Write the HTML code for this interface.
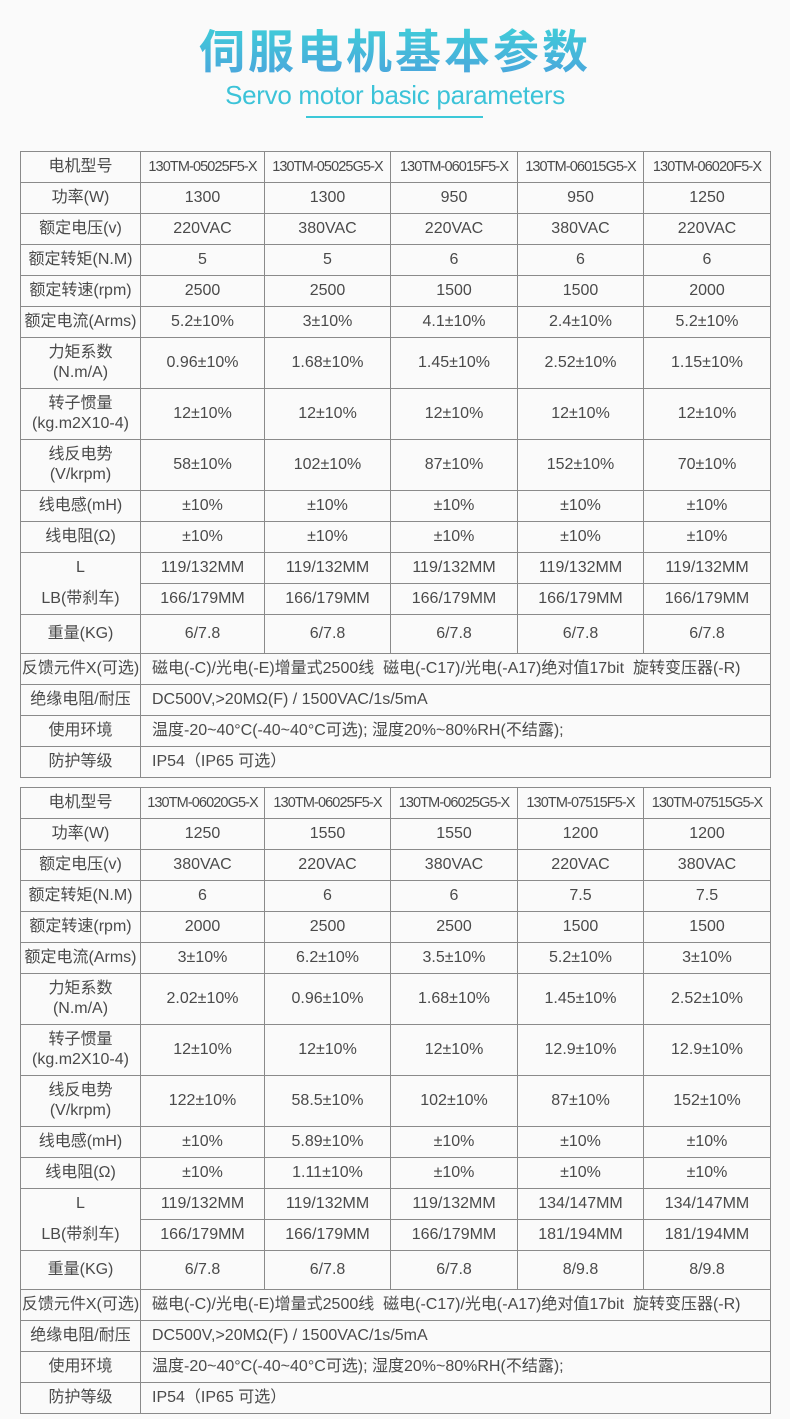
<!DOCTYPE html>
<html><head><meta charset="utf-8"><style>
body{margin:0;background:#fafafa;width:790px;height:1419px;position:relative;overflow:hidden;font-family:"Liberation Sans","Noto Sans CJK SC",sans-serif;color:#4a4a4a}
.t1{position:absolute;left:0;top:22px;width:790px;text-align:center;font-size:46px;font-weight:bold;letter-spacing:3px;line-height:54px;font-family:"Noto Sans CJK SC",sans-serif;background:linear-gradient(#3fd0d8,#4aa6dc);-webkit-background-clip:text;background-clip:text;color:transparent}
.t2{position:absolute;left:0;top:78px;width:790px;text-align:center;font-size:26px;line-height:34px;color:#3cc3d8;letter-spacing:-0.3px}
.ul{position:absolute;left:306px;top:116px;width:177px;height:2px;background:#3cc8d8}
table{position:absolute;left:20px;width:750px;border-collapse:collapse;table-layout:fixed}
td{border:1px solid #8a8a8a;text-align:center;font-size:16px;padding:0;line-height:20px;white-space:nowrap;overflow:hidden}
td.m{font-size:14.5px;letter-spacing:-0.9px}
td.l{text-align:left;padding-left:11px}
tr.a{height:31px}tr.b{height:51px}tr.c{height:39px}
td.nb{border-bottom:none}td.nt{border-top:none}
</style></head><body>
<div class="t1">伺服电机基本参数</div>
<div class="t2">Servo motor basic parameters</div>
<div class="ul"></div>

<table style="top:151px">
<colgroup><col style="width:120px"><col style="width:124px"><col style="width:126px"><col style="width:127px"><col style="width:126px"><col style="width:127px"></colgroup>
<tr class="a"><td>电机型号</td><td class="m">130TM-05025F5-X</td><td class="m">130TM-05025G5-X</td><td class="m">130TM-06015F5-X</td><td class="m">130TM-06015G5-X</td><td class="m">130TM-06020F5-X</td></tr>
<tr class="a"><td>功率(W)</td><td>1300</td><td>1300</td><td>950</td><td>950</td><td>1250</td></tr>
<tr class="a"><td>额定电压(v)</td><td>220VAC</td><td>380VAC</td><td>220VAC</td><td>380VAC</td><td>220VAC</td></tr>
<tr class="a"><td>额定转矩(N.M)</td><td>5</td><td>5</td><td>6</td><td>6</td><td>6</td></tr>
<tr class="a"><td>额定转速(rpm)</td><td>2500</td><td>2500</td><td>1500</td><td>1500</td><td>2000</td></tr>
<tr class="a"><td>额定电流(Arms)</td><td>5.2±10%</td><td>3±10%</td><td>4.1±10%</td><td>2.4±10%</td><td>5.2±10%</td></tr>
<tr class="b"><td>力矩系数<br>(N.m/A)</td><td>0.96±10%</td><td>1.68±10%</td><td>1.45±10%</td><td>2.52±10%</td><td>1.15±10%</td></tr>
<tr class="b"><td>转子惯量<br>(kg.m2X10-4)</td><td>12±10%</td><td>12±10%</td><td>12±10%</td><td>12±10%</td><td>12±10%</td></tr>
<tr class="b"><td>线反电势<br>(V/krpm)</td><td>58±10%</td><td>102±10%</td><td>87±10%</td><td>152±10%</td><td>70±10%</td></tr>
<tr class="a"><td>线电感(mH)</td><td>±10%</td><td>±10%</td><td>±10%</td><td>±10%</td><td>±10%</td></tr>
<tr class="a"><td>线电阻(Ω)</td><td>±10%</td><td>±10%</td><td>±10%</td><td>±10%</td><td>±10%</td></tr>
<tr class="a"><td class="nb">L</td><td>119/132MM</td><td>119/132MM</td><td>119/132MM</td><td>119/132MM</td><td>119/132MM</td></tr>
<tr class="a"><td class="nt">LB(带刹车)</td><td>166/179MM</td><td>166/179MM</td><td>166/179MM</td><td>166/179MM</td><td>166/179MM</td></tr>
<tr class="c"><td>重量(KG)</td><td>6/7.8</td><td>6/7.8</td><td>6/7.8</td><td>6/7.8</td><td>6/7.8</td></tr>
<tr class="a"><td>反馈元件X(可选)</td><td class="l" colspan="5">磁电(-C)/光电(-E)增量式2500线&nbsp; 磁电(-C17)/光电(-A17)绝对值17bit&nbsp; 旋转变压器(-R)</td></tr>
<tr class="a"><td>绝缘电阻/耐压</td><td class="l" colspan="5">DC500V,&gt;20MΩ(F) / 1500VAC/1s/5mA</td></tr>
<tr class="a"><td>使用环境</td><td class="l" colspan="5">温度-20~40°C(-40~40°C可选); 湿度20%~80%RH(不结露);</td></tr>
<tr class="a"><td>防护等级</td><td class="l" colspan="5">IP54（IP65 可选）</td></tr>
</table>

<table style="top:787px">
<colgroup><col style="width:120px"><col style="width:124px"><col style="width:126px"><col style="width:127px"><col style="width:126px"><col style="width:127px"></colgroup>
<tr class="a"><td>电机型号</td><td class="m">130TM-06020G5-X</td><td class="m">130TM-06025F5-X</td><td class="m">130TM-06025G5-X</td><td class="m">130TM-07515F5-X</td><td class="m">130TM-07515G5-X</td></tr>
<tr class="a"><td>功率(W)</td><td>1250</td><td>1550</td><td>1550</td><td>1200</td><td>1200</td></tr>
<tr class="a"><td>额定电压(v)</td><td>380VAC</td><td>220VAC</td><td>380VAC</td><td>220VAC</td><td>380VAC</td></tr>
<tr class="a"><td>额定转矩(N.M)</td><td>6</td><td>6</td><td>6</td><td>7.5</td><td>7.5</td></tr>
<tr class="a"><td>额定转速(rpm)</td><td>2000</td><td>2500</td><td>2500</td><td>1500</td><td>1500</td></tr>
<tr class="a"><td>额定电流(Arms)</td><td>3±10%</td><td>6.2±10%</td><td>3.5±10%</td><td>5.2±10%</td><td>3±10%</td></tr>
<tr class="b"><td>力矩系数<br>(N.m/A)</td><td>2.02±10%</td><td>0.96±10%</td><td>1.68±10%</td><td>1.45±10%</td><td>2.52±10%</td></tr>
<tr class="b"><td>转子惯量<br>(kg.m2X10-4)</td><td>12±10%</td><td>12±10%</td><td>12±10%</td><td>12.9±10%</td><td>12.9±10%</td></tr>
<tr class="b"><td>线反电势<br>(V/krpm)</td><td>122±10%</td><td>58.5±10%</td><td>102±10%</td><td>87±10%</td><td>152±10%</td></tr>
<tr class="a"><td>线电感(mH)</td><td>±10%</td><td>5.89±10%</td><td>±10%</td><td>±10%</td><td>±10%</td></tr>
<tr class="a"><td>线电阻(Ω)</td><td>±10%</td><td>1.11±10%</td><td>±10%</td><td>±10%</td><td>±10%</td></tr>
<tr class="a"><td class="nb">L</td><td>119/132MM</td><td>119/132MM</td><td>119/132MM</td><td>134/147MM</td><td>134/147MM</td></tr>
<tr class="a"><td class="nt">LB(带刹车)</td><td>166/179MM</td><td>166/179MM</td><td>166/179MM</td><td>181/194MM</td><td>181/194MM</td></tr>
<tr class="c"><td>重量(KG)</td><td>6/7.8</td><td>6/7.8</td><td>6/7.8</td><td>8/9.8</td><td>8/9.8</td></tr>
<tr class="a"><td>反馈元件X(可选)</td><td class="l" colspan="5">磁电(-C)/光电(-E)增量式2500线&nbsp; 磁电(-C17)/光电(-A17)绝对值17bit&nbsp; 旋转变压器(-R)</td></tr>
<tr class="a"><td>绝缘电阻/耐压</td><td class="l" colspan="5">DC500V,&gt;20MΩ(F) / 1500VAC/1s/5mA</td></tr>
<tr class="a"><td>使用环境</td><td class="l" colspan="5">温度-20~40°C(-40~40°C可选); 湿度20%~80%RH(不结露);</td></tr>
<tr class="a"><td>防护等级</td><td class="l" colspan="5">IP54（IP65 可选）</td></tr>
</table>
</body></html>
